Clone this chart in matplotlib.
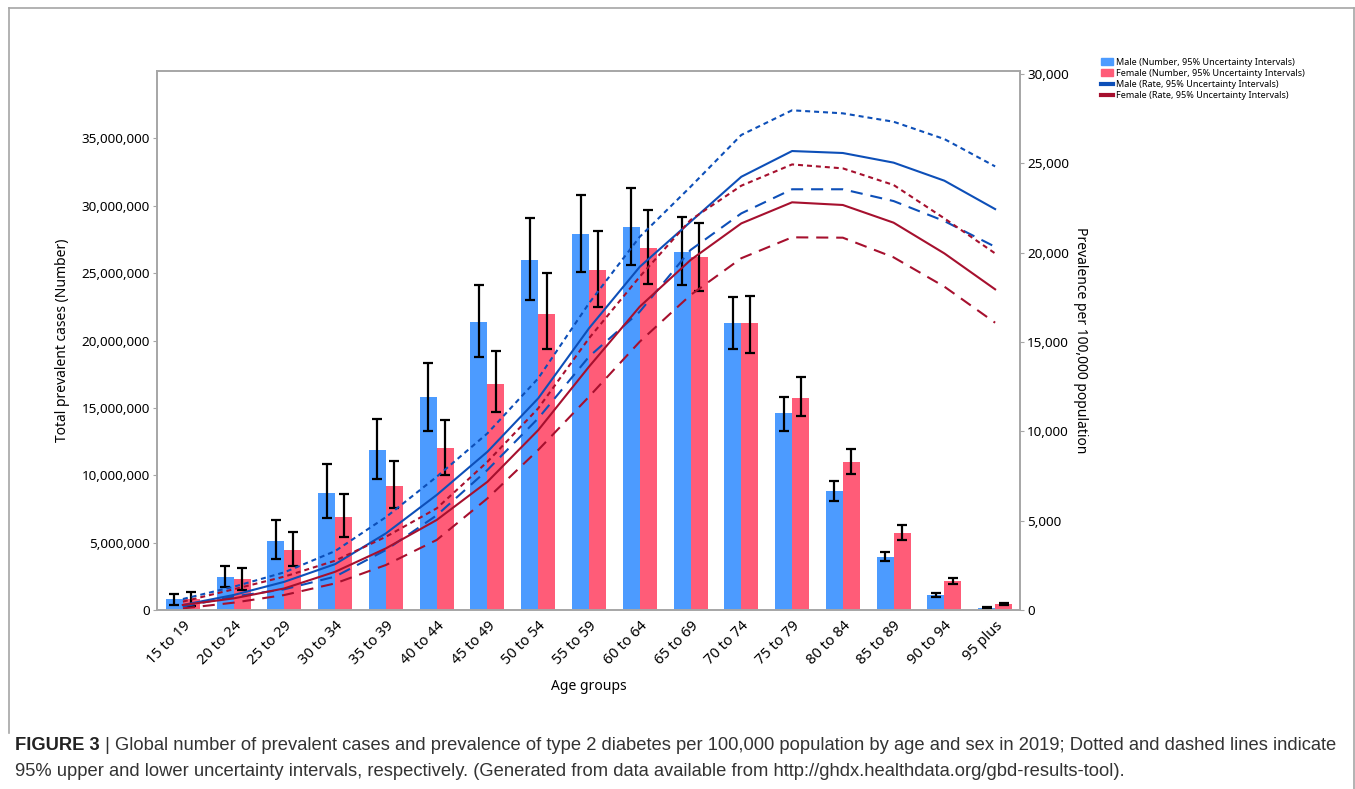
import numpy as np
import matplotlib
matplotlib.use("Agg")
from matplotlib import pyplot as plt
from matplotlib.lines import Line2D
from matplotlib.patches import Patch
from matplotlib.ticker import FuncFormatter

plt.rcParams['font.family'] = ['Noto Sans', 'DejaVu Sans']

age_groups = ["15 to 19", "20 to 24", "25 to 29", "30 to 34", "35 to 39", "40 to 44",
              "45 to 49", "50 to 54", "55 to 59", "60 to 64", "65 to 69", "70 to 74",
              "75 to 79", "80 to 84", "85 to 89", "90 to 94", "95 plus"]

# prevalent cases, millions
male_num = [0.78, 2.45, 5.15, 8.65, 11.9, 15.8, 21.35, 25.95, 27.9, 28.4, 26.55, 21.3, 14.6, 8.85, 3.95, 1.12, 0.15]
male_num_lo = [0.37, 1.7, 3.8, 6.8, 9.75, 13.3, 18.75, 23.0, 25.1, 25.6, 24.1, 19.4, 13.3, 8.1, 3.6, 0.96, 0.11]
male_num_hi = [1.19, 3.26, 6.7, 10.8, 14.15, 18.35, 24.1, 29.1, 30.8, 31.3, 29.2, 23.2, 15.8, 9.6, 4.3, 1.26, 0.19]
female_num = [0.82, 2.3, 4.45, 6.9, 9.2, 12.0, 16.8, 22.0, 25.2, 26.9, 26.2, 21.3, 15.7, 11.0, 5.7, 2.15, 0.45]
female_num_lo = [0.3, 1.5, 3.3, 5.4, 7.6, 10.05, 14.7, 19.4, 22.5, 24.2, 23.7, 19.1, 14.4, 10.1, 5.2, 1.93, 0.38]
female_num_hi = [1.33, 3.1, 5.8, 8.6, 11.05, 14.1, 19.2, 25.0, 28.1, 29.7, 28.7, 23.3, 17.3, 11.95, 6.3, 2.37, 0.52]

# prevalence per 100,000
male_rate = [280, 840, 1580, 2570, 4290, 6440, 8860, 11850, 15770, 19210, 21730, 24250, 25690, 25580, 25040, 24030, 22440]
male_rate_hi = [615, 1300, 2110, 3300, 5200, 7460, 9890, 12970, 17170, 20890, 23690, 26590, 27970, 27800, 27330, 26360, 24830]
male_rate_lo = [190, 750, 1160, 1870, 3360, 5300, 7840, 10730, 14180, 16700, 20150, 22200, 23550, 23550, 22890, 21770, 20330]
female_rate = [280, 650, 1210, 2140, 3450, 5040, 7180, 10070, 13620, 16980, 19590, 21640, 22820, 22670, 21680, 19960, 17950]
female_rate_hi = [470, 1160, 1870, 2760, 4100, 5690, 8300, 11290, 15210, 18660, 21830, 23750, 24940, 24720, 23790, 21920, 19960]
female_rate_lo = [90, 410, 840, 1490, 2520, 3920, 6250, 8960, 11940, 15020, 17630, 19690, 20860, 20840, 19740, 18100, 16080]

caption_head = "FIGURE 3"
caption_1 = (" | Global number of prevalent cases and prevalence of type 2 diabetes per 100,000 population "
             "by age and sex in 2019; Dotted and dashed lines indicate")
caption_2 = ("95% upper and lower uncertainty intervals, respectively. (Generated from data available from "
             "http://ghdx.healthdata.org/gbd-results-tool).")

BAR_BLUE = "#4C9BFF"
BAR_PINK = "#FF5C78"
LINE_BLUE = "#0D4FB8"
LINE_RED = "#A6102E"
SPINE = "#A6A6A6"

fig = plt.figure(figsize=(13.55, 7.89), dpi=100)
ax = fig.add_axes([157 / 1355, 1 - 610 / 789, (1020 - 157) / 1355, (610 - 71) / 789])
ax2 = ax.twinx()

x = np.arange(len(age_groups))
w = 0.335
m = np.array(male_num) * 1e6
f = np.array(female_num) * 1e6
m_err = [m - np.array(male_num_lo) * 1e6, np.array(male_num_hi) * 1e6 - m]
f_err = [f - np.array(female_num_lo) * 1e6, np.array(female_num_hi) * 1e6 - f]

ekw = dict(ecolor="black", elinewidth=1.6, capsize=3.6, capthick=1.6)
ax.bar(x - w / 2, m, w, color=BAR_BLUE, yerr=m_err, error_kw=ekw)
ax.bar(x + w / 2, f, w, color=BAR_PINK, yerr=f_err, error_kw=ekw)

lw = 1.5
dot = (0, (2.4, 1.9))
dash = (0, (5.8, 3.8))
ax2.plot(x, male_rate_hi, color=LINE_BLUE, lw=lw, ls=dot)
ax2.plot(x, male_rate, color=LINE_BLUE, lw=lw)
ax2.plot(x, male_rate_lo, color=LINE_BLUE, lw=lw, ls=dash)
ax2.plot(x, female_rate_hi, color=LINE_RED, lw=lw, ls=dot)
ax2.plot(x, female_rate, color=LINE_RED, lw=lw)
ax2.plot(x, female_rate_lo, color=LINE_RED, lw=lw, ls=dash)

ax.set_xlim(-0.51, 16.49)
ax.set_ylim(0, 40e6)
ax2.set_ylim(0, 30170)
ax.set_yticks(np.arange(0, 35e6 + 1, 5e6))
ax2.set_yticks(np.arange(0, 30001, 5000))
ax.yaxis.set_major_formatter(FuncFormatter(lambda v, p: f"{int(v):,}"))
ax2.yaxis.set_major_formatter(FuncFormatter(lambda v, p: f"{int(v):,}"))

ax.set_xticks(x)
ax.set_xticklabels(age_groups, rotation=45, ha="right", rotation_mode="anchor", fontsize=10.5)
ax.tick_params(axis="x", length=0, pad=6)
ax.tick_params(axis="y", labelsize=9.7, length=3, color=SPINE, pad=2)
ax2.tick_params(axis="y", labelsize=9.7, length=3, color=SPINE, pad=2)

for a in (ax, ax2):
    for s in a.spines.values():
        s.set_color(SPINE)
        s.set_linewidth(1.2)

ax.set_ylabel("Total prevalent cases (Number)", fontsize=10, labelpad=8)
ax2.set_ylabel("Prevalence per 100,000 population", fontsize=10, rotation=270, labelpad=14)
ax.set_xlabel("Age groups", fontsize=10, labelpad=8)

handles = [Patch(color=BAR_BLUE), Patch(color=BAR_PINK),
           Line2D([], [], color=LINE_BLUE, lw=3), Line2D([], [], color=LINE_RED, lw=3)]
labels = ["Male (Number, 95% Uncertainty Intervals)", "Female (Number, 95% Uncertainty Intervals)",
          "Male (Rate, 95% Uncertainty Intervals)", "Female (Rate, 95% Uncertainty Intervals)"]
fig.legend(handles, labels, loc="upper left", bbox_to_anchor=(1096 / 1355, 1 - 53 / 789),
           frameon=False, fontsize=6.5, handlelength=1.4, handleheight=0.8,
           handletextpad=0.3, labelspacing=0.25, borderpad=0)

# outer frame
fig.add_artist(Line2D([9 / 1355, 9 / 1355], [1 - 733 / 789, 1 - 8 / 789], color=SPINE, lw=1.2))
fig.add_artist(Line2D([9 / 1355, 1354 / 1355], [1 - 8 / 789, 1 - 8 / 789], color=SPINE, lw=1.2))
fig.add_artist(Line2D([1354 / 1355, 1354 / 1355], [0, 1 - 8 / 789], color=SPINE, lw=1.2))

# caption: bold head, then the rest placed right after it
cap_font = ['Liberation Sans', 'DejaVu Sans']
cap_size = 13.2
head = fig.text(15 / 1355, 1 - 746 / 789, caption_head, fontsize=cap_size, va="center",
                family=cap_font, weight="bold", color="#222222")
fig.canvas.draw()
bb = head.get_window_extent()
fig.text(bb.x1 / 1355 / 1.0 * (1355 / fig.bbox.width), 1 - 746 / 789, caption_1, fontsize=cap_size,
         va="center", family=cap_font, color="#333333")
fig.text(15 / 1355, 1 - 771 / 789, caption_2, fontsize=cap_size, va="center",
         family=cap_font, color="#333333")

fig.savefig("out.png", dpi=100)
